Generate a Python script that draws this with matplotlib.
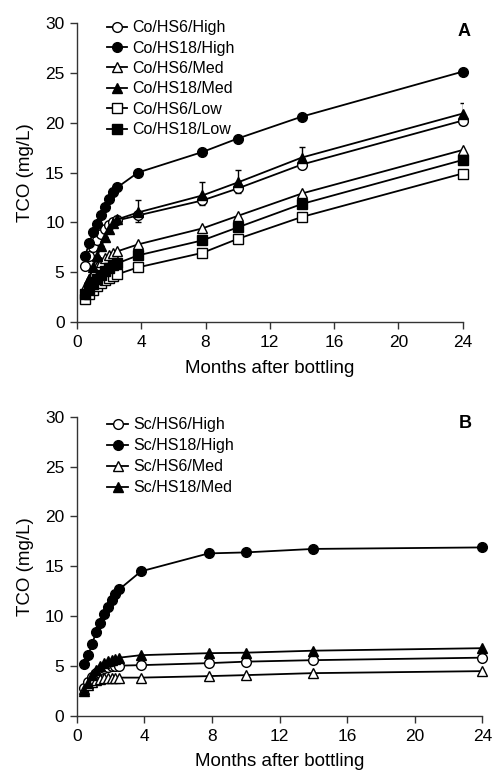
import matplotlib
matplotlib.use("Agg")
import matplotlib.pyplot as plt

plt.rcParams['font.family'] = ['Liberation Sans', 'DejaVu Sans']

# ---------------- data ----------------
months_a = [0.5, 0.75, 1.0, 1.25, 1.5, 1.75, 2.0, 2.25, 2.5, 3.8, 7.8, 10, 14, 24]
co_hs6_high = [5.6, 6.6, 7.5, 8.2, 8.8, 9.3, 9.7, 10.0, 10.2, 10.7, 12.2, 13.4, 15.8, 20.2]
co_hs18_high = [6.6, 7.9, 9.0, 9.8, 10.7, 11.5, 12.3, 13.0, 13.5, 15.0, 17.05, 18.4, 20.6, 25.1]
co_hs6_med = [3.5, 4.3, 5.0, 5.6, 6.0, 6.4, 6.7, 6.9, 7.1, 7.8, 9.4, 10.65, 12.9, 17.25]
co_hs18_med = [3.0, 4.3, 5.5, 6.6, 7.6, 8.5, 9.3, 9.9, 10.3, 11.0, 12.7, 14.0, 16.5, 20.9]
co_hs6_low = [2.3, 2.8, 3.2, 3.6, 3.9, 4.2, 4.4, 4.6, 4.8, 5.5, 6.95, 8.35, 10.55, 14.9]
co_hs18_low = [2.8, 3.3, 3.8, 4.3, 4.7, 5.1, 5.4, 5.7, 5.9, 6.7, 8.2, 9.5, 11.85, 16.25]
co_hs18_med_err = [0, 0, 0, 0, 0, 0, 0, 0, 0.3, 1.2, 1.3, 1.3, 1.1, 1.1]
co_hs6_high_err = [0, 0, 0, 0, 0, 0, 0, 0, 0.3, 0.7, 0.5, 0.5, 0, 0]

months_b = [0.45, 0.68, 0.91, 1.14, 1.37, 1.6, 1.83, 2.06, 2.29, 2.52, 3.8, 7.8, 10, 14, 24]
sc_hs6_high = [2.8, 3.4, 3.9, 4.3, 4.6, 4.8, 4.9, 5.0, 5.0, 5.05, 5.1, 5.3, 5.45, 5.6, 5.85]
sc_hs18_high = [5.2, 6.1, 7.2, 8.4, 9.3, 10.2, 10.9, 11.6, 12.2, 12.7, 14.5, 16.3, 16.4, 16.75, 16.9]
sc_hs6_med = [2.7, 3.1, 3.4, 3.6, 3.75, 3.8, 3.8, 3.85, 3.85, 3.85, 3.85, 4.0, 4.1, 4.3, 4.5]
sc_hs18_med = [2.5, 3.3, 4.1, 4.6, 5.0, 5.3, 5.5, 5.65, 5.75, 5.85, 6.1, 6.3, 6.35, 6.55, 6.8]

labels_a = ['Co/HS6/High', 'Co/HS18/High', 'Co/HS6/Med', 'Co/HS18/Med', 'Co/HS6/Low', 'Co/HS18/Low']
labels_b = ['Sc/HS6/High', 'Sc/HS18/High', 'Sc/HS6/Med', 'Sc/HS18/Med']
xticks = [0, 4, 8, 12, 16, 20, 24]
yticks = [0, 5, 10, 15, 20, 25, 30]

# ---------------- figure ----------------
fig = plt.figure(figsize=(4.93, 7.71), dpi=100)
ax_a = fig.add_axes([0.1562, 0.582, 0.782, 0.3885])
ax_b = fig.add_axes([0.1556, 0.0713, 0.8227, 0.3882])

styles = [('o', 'white'), ('o', 'black'), ('^', 'white'), ('^', 'black'), ('s', 'white'), ('s', 'black')]


def style_axes(ax):
    ax.set_xlim(0, 24)
    ax.set_ylim(0, 30)
    ax.set_xticks(xticks)
    ax.set_yticks(yticks)
    for s in ['top', 'right']:
        ax.spines[s].set_visible(False)
    for s in ['left', 'bottom']:
        ax.spines[s].set_linewidth(1.0)
        ax.spines[s].set_color('#333333')
    ax.tick_params(direction='out', length=5, width=1.0, labelsize=12.5, color='#333333', pad=4)
    ax.set_xlabel('Months after bottling', fontsize=13.5, labelpad=7)
    ax.set_ylabel('TCO (mg/L)', fontsize=13.5, labelpad=8)


series_a = [co_hs6_high, co_hs18_high, co_hs6_med, co_hs18_med, co_hs6_low, co_hs18_low]
for i, (vals, lab) in enumerate(zip(series_a, labels_a)):
    m, fc = styles[i]
    ax_a.plot(months_a, vals, color='black', lw=1.3, marker=m, markersize=7 if m != 's' else 6.5,
              markerfacecolor=fc, markeredgecolor='black', markeredgewidth=1.0, label=lab,
              clip_on=False, zorder=3 + (i % 2))

# error bars (one-sided)
ax_a.errorbar(months_a, co_hs18_med, yerr=[[0] * len(months_a), co_hs18_med_err], fmt='none',
              ecolor='black', elinewidth=1.0, capsize=2.5, capthick=1.0, zorder=2)
ax_a.errorbar(months_a, co_hs6_high, yerr=[co_hs6_high_err, [0] * len(months_a)], fmt='none',
              ecolor='black', elinewidth=1.0, capsize=2.5, capthick=1.0, zorder=2)

style_axes(ax_a)
ax_a.legend(loc='upper left', bbox_to_anchor=(0.06, 1.03), frameon=False, fontsize=11.5,
            handlelength=1.3, handletextpad=0.3, labelspacing=0.34, borderaxespad=0)
ax_a.text(1.005, 0.97, 'A', transform=ax_a.transAxes, fontsize=13, fontweight='bold',
          ha='center', va='center')

series_b = [sc_hs6_high, sc_hs18_high, sc_hs6_med, sc_hs18_med]
for i, (vals, lab) in enumerate(zip(series_b, labels_b)):
    m, fc = styles[i]
    ax_b.plot(months_b, vals, color='black', lw=1.3, marker=m, markersize=7,
              markerfacecolor=fc, markeredgecolor='black', markeredgewidth=1.0, label=lab,
              clip_on=False, zorder=3 + (i % 2))

style_axes(ax_b)
ax_b.legend(loc='upper left', bbox_to_anchor=(0.06, 1.02), frameon=False, fontsize=11.5,
            handlelength=1.3, handletextpad=0.3, labelspacing=0.38, borderaxespad=0)
ax_b.text(0.958, 0.978, 'B', transform=ax_b.transAxes, fontsize=13, fontweight='bold',
          ha='center', va='center')

fig.savefig('out.png', dpi=100)
